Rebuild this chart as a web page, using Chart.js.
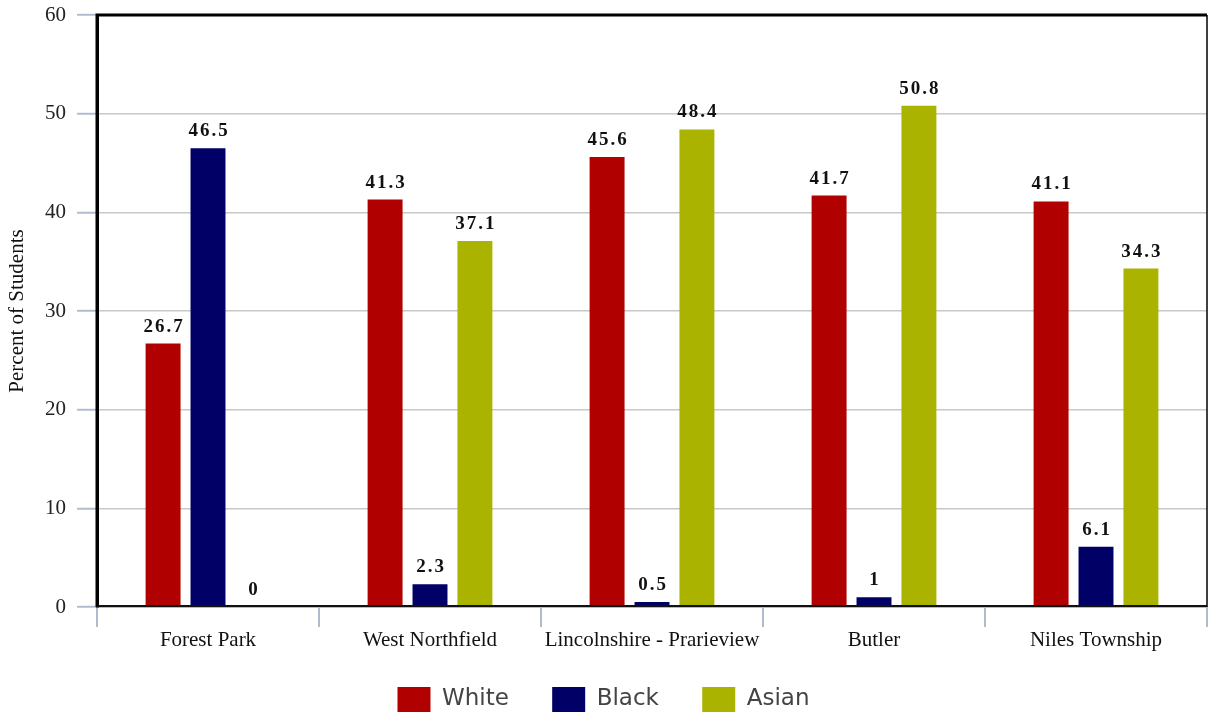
<!DOCTYPE html>
<html>
<head>
<meta charset="utf-8">
<script src="https://cdn.jsdelivr.net/npm/chart.js@4/dist/chart.umd.min.js"></script>
<style>
  html, body { margin: 0; padding: 0; background: #fff; }
  #wrap { width: 1208px; height: 715px; }
</style>
</head>
<body>
<div id="wrap"><canvas id="chart"></canvas></div>
<script>
// schools and race breakdown (percent of students)
const schools = ["Forest Park", "West Northfield", "Lincolnshire - Prarieview", "Butler", "Niles Township"];
const white = [26.7, 41.3, 45.6, 41.7, 41.1];
const black = [46.5, 2.3, 0.5, 1, 6.1];
const asian = [0, 37.1, 48.4, 50.8, 34.3];
const yTicks = [0, 10, 20, 30, 40, 50, 60];

const serif = "'Liberation Serif', 'DejaVu Serif', serif";

// value labels above each bar
const valueLabels = {
  id: "valueLabels",
  afterDatasetsDraw(chart) {
    const ctx = chart.ctx;
    ctx.save();
    ctx.font = "bold 19px " + serif;
    ctx.fillStyle = "#111";
    ctx.textAlign = "center";
    ctx.textBaseline = "alphabetic";
    if ("letterSpacing" in ctx) ctx.letterSpacing = "2px";
    chart.data.datasets.forEach(function (ds, i) {
      chart.getDatasetMeta(i).data.forEach(function (bar, j) {
        ctx.fillText(String(ds.data[j]), bar.x + 1, bar.y - 12);
      });
    });
    ctx.restore();
  }
};

// frame around the plot area
const frame = {
  id: "frame",
  afterDraw(chart) {
    const a = chart.chartArea;
    const ctx = chart.ctx;
    ctx.save();
    ctx.strokeStyle = "#000";
    ctx.lineWidth = 3;
    ctx.beginPath();
    ctx.moveTo(a.left, a.bottom);
    ctx.lineTo(a.left, a.top);
    ctx.lineTo(a.right, a.top);
    ctx.stroke();
    ctx.lineWidth = 1.5;
    ctx.beginPath();
    ctx.moveTo(a.right, a.top);
    ctx.lineTo(a.right, a.bottom);
    ctx.stroke();
    ctx.lineWidth = 2;
    ctx.strokeStyle = "#111";
    ctx.beginPath();
    ctx.moveTo(a.left, a.bottom - 1);
    ctx.lineTo(a.right, a.bottom - 1);
    ctx.stroke();
    ctx.restore();
  }
};

const ctx = document.getElementById("chart").getContext("2d");
new Chart(ctx, {
  type: "bar",
  data: {
    labels: schools,
    datasets: [
      { label: "White", data: white, backgroundColor: "#b00000" },
      { label: "Black", data: black, backgroundColor: "#000066" },
      { label: "Asian", data: asian, backgroundColor: "#aab400" }
    ]
  },
  options: {
    responsive: true,
    maintainAspectRatio: false,
    animation: false,
    categoryPercentage: 0.607,
    barPercentage: 0.778,
    layout: { padding: { top: 15, right: 1, left: 0, bottom: 0 } },
    plugins: {
      tooltip: { enabled: false },
      legend: {
        position: "bottom",
        maxHeight: 64,
        labels: {
          boxWidth: 33,
          boxHeight: 25,
          padding: 36,
          color: "#444",
          font: { family: "'DejaVu Sans', sans-serif", size: 23 },
          // a trailing space widens the gap between legend items a little
          generateLabels(chart) {
            const items = Chart.defaults.plugins.legend.labels.generateLabels(chart);
            items.forEach(function (item, i) {
              if (i < items.length - 1) item.text += " ";
            });
            return items;
          }
        }
      }
    },
    scales: {
      x: {
        grid: {
          offset: true,
          drawOnChartArea: false,
          tickLength: 20,
          tickColor: "#b0bccd",
          lineWidth: 2
        },
        border: { color: "#b0bccd", width: 2 },
        ticks: {
          color: "#111",
          padding: 1,
          font: { family: serif, size: 21 }
        },
        afterFit(s) { s.height = 44; }
      },
      y: {
        min: 0,
        max: 60,
        afterBuildTicks(s) { s.ticks = yTicks.map(v => ({ value: v })); },
        grid: {
          color: "#c8c8c8",
          lineWidth: 1.5,
          tickLength: 20,
          tickColor: "#b0bccd",
          tickWidth: 2
        },
        border: { color: "#000", width: 3 },
        ticks: {
          color: "#222",
          padding: 11,
          font: { family: serif, size: 21 }
        },
        title: {
          display: true,
          text: "Percent of Students",
          color: "#111",
          padding: { top: 5, bottom: 2 },
          font: { family: serif, size: 21 }
        },
        afterFit(s) {
          s.width = 97;
          s.paddingTop = 0;
          s.paddingBottom = 0;
        }
      }
    }
  },
  plugins: [valueLabels, frame]
});
</script>
</body>
</html>
